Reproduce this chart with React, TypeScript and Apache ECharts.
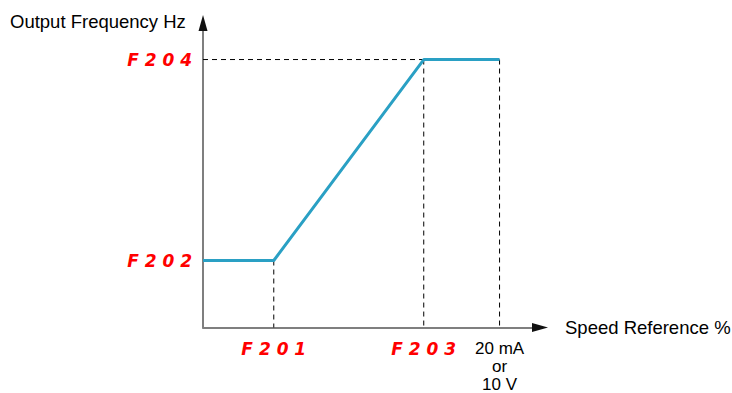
import React, { useEffect, useRef } from "react";
import * as echarts from "echarts";

// Points of the output-frequency curve (x: speed reference %, y: output frequency)
const curveX = [0, 21, 65.5, 88];
const curveY = [22, 22, 88, 88];

// Parameter positions
const xTickValues = [21, 65.5, 88];
const xTickLabels = ["F 2 0 1", "F 2 0 3", "20 mA\nor\n10 V"];
const yTickValues = [22, 88];
const yTickLabels = ["F 2 0 2", "F 2 0 4"];

const yAxisTitle = "Output Frequency Hz";
const xAxisTitle = "Speed Reference %";

const FONT = "'Liberation Sans', Arial, Helvetica, sans-serif";
const SEG_FONT = "'DejaVu Sans', sans-serif";

export default function App() {
  const ref = useRef<HTMLDivElement>(null);

  useEffect(() => {
    if (!ref.current) return;
    const chart = echarts.init(ref.current, undefined, { renderer: "svg" });

    const curve = curveX.map((x, i) => [x, curveY[i]]);
    const topY = curveY[curveY.length - 1];
    const lowY = curveY[0];

    const dashed = (data: number[][]) => ({
      type: "line",
      data,
      symbol: "none",
      silent: true,
      z: 1,
      xAxisIndex: 0,
      yAxisIndex: 0,
      lineStyle: { color: "#000", width: 1, type: [5, 4] },
    });

    const xLabelFormatter = (v: number) => {
      const idx = xTickValues.indexOf(v);
      if (idx < 0) return "";
      const t = xTickLabels[idx];
      if (t.startsWith("F")) return "{r|" + t + "}";
      return t
        .split("\n")
        .map((s) => "{b|" + s + "}")
        .join("\n");
    };

    const yLabelFormatter = (v: number) => {
      const idx = yTickValues.indexOf(v);
      return idx < 0 ? "" : yTickLabels[idx];
    };

    const arrowAxis = {
      type: "value",
      min: 0,
      max: 100,
      splitLine: { show: false },
      axisTick: { show: false },
      axisLabel: { show: false },
      z: 5,
      axisLine: {
        show: true,
        lineStyle: { color: "#111", width: 0 },
        symbol: ["none", "triangle"],
        symbolSize: [9, 16],
      },
    };

    chart.setOption({
      animation: false,
      grid: { left: 203, top: 23, right: 192, bottom: 62, containLabel: false },
      xAxis: [
        {
          type: "value",
          min: 0,
          max: 100,
          splitLine: { show: false },
          axisTick: { show: false },
          axisLine: {
            show: true,
            lineStyle: { color: "#7f7f7f", width: 2 },
          },
          axisLabel: {
            customValues: xTickValues,
            formatter: xLabelFormatter,
            margin: 12,
            color: "#000",
            rich: {
              r: {
                color: "#ff0000",
                fontFamily: SEG_FONT,
                fontStyle: "italic",
                fontWeight: "bold",
                fontSize: 17,
                lineHeight: 18,
              },
              b: {
                color: "#000",
                fontFamily: FONT,
                fontSize: 17,
                lineHeight: 18,
              },
            },
          },
        },
        { ...arrowAxis, position: "bottom" },
      ],
      yAxis: [
        {
          type: "value",
          min: 0,
          max: 100,
          splitLine: { show: false },
          axisTick: { show: false },
          axisLine: {
            show: true,
            lineStyle: { color: "#7f7f7f", width: 2 },
          },
          axisLabel: {
            customValues: yTickValues,
            formatter: yLabelFormatter,
            margin: 11,
            color: "#ff0000",
            fontFamily: SEG_FONT,
            fontStyle: "italic",
            fontWeight: "bold",
            fontSize: 17,
          },
        },
        { ...arrowAxis, position: "left" },
      ],
      graphic: [
        {
          type: "text",
          left: 10,
          top: 12,
          style: { text: yAxisTitle, fill: "#000", font: "18.5px " + FONT },
        },
        {
          type: "text",
          left: 565,
          top: 318,
          style: { text: xAxisTitle, fill: "#000", font: "18.5px " + FONT },
        },
      ],
      series: [
        dashed([
          [0, topY],
          [curveX[2], topY],
        ]),
        dashed([
          [curveX[2], topY],
          [curveX[2], 0],
        ]),
        dashed([
          [curveX[3], topY],
          [curveX[3], 0],
        ]),
        dashed([
          [curveX[1], lowY],
          [curveX[1], 0],
        ]),
        {
          type: "line",
          data: curve,
          symbol: "none",
          z: 3,
          xAxisIndex: 0,
          yAxisIndex: 0,
          lineStyle: { color: "#2aa0c4", width: 3 },
        },
      ],
    });

    return () => chart.dispose();
  }, []);

  return (
    <div
      ref={ref}
      style={{ position: "fixed", left: 0, top: 0, width: 732, height: 393, background: "#fff" }}
    />
  );
}
